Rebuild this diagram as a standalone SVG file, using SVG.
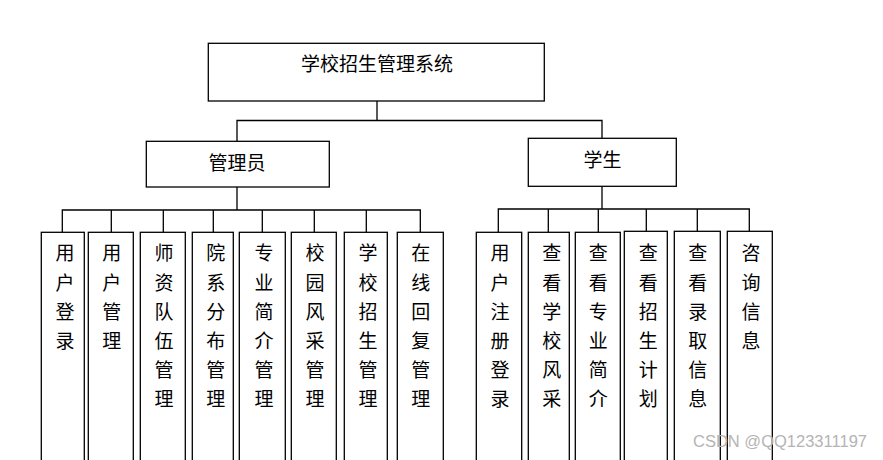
<svg xmlns="http://www.w3.org/2000/svg" width="883" height="460" viewBox="0 0 883 460">
<style>
.box{fill:#fff;stroke:#000;stroke-width:1.3}
.ln{fill:none;stroke:#000;stroke-width:1.3}
.t{font-family:"Liberation Serif","Noto Sans CJK SC",serif;font-size:19px;fill:#000;text-anchor:middle;dominant-baseline:central}
.wm{font-family:"Liberation Sans",Arial,sans-serif;font-size:16px;fill:#b4b4b4}
</style>
<rect width="883" height="460" fill="#fff"/>
<g id="connectors">
<path class="ln" d="M377 101V120.5M237 141V120.5H602V138"/>
<path class="ln" d="M237 187V210M62.3 232V210H420.3V232M111.3 210V232M163.3 210V232M213.3 210V232M262.3 210V232M314.3 210V232M366.3 210V232"/>
<path class="ln" d="M602 186V209M498.3 232V209H749.3V231M548.3 209V232M598.3 209V232M646.3 209V231M697.3 209V231"/>
</g>
<g id="root"><rect class="box" x="208.3" y="43.3" width="336" height="57.7"/><text class="t" x="377" y="64.5">学校招生管理系统</text></g>
<g id="admin"><rect class="box" x="146.3" y="141.3" width="183" height="45.7"/><text class="t" x="237" y="163">管理员</text></g>
<g id="student"><rect class="box" x="528.3" y="138.3" width="148" height="48"/><text class="t" x="602.5" y="160">学生</text></g>

<g id="a1"><rect class="box" x="41.3" y="232.3" width="43" height="240"/><text class="t"><tspan x="65" y="253.3">用</tspan><tspan x="65" y="282.5">户</tspan><tspan x="65" y="311.7">登</tspan><tspan x="65" y="340.9">录</tspan></text></g>
<g id="a2"><rect class="box" x="88.3" y="232.3" width="45" height="240"/><text class="t"><tspan x="111.7" y="253.3">用</tspan><tspan x="111.7" y="282.5">户</tspan><tspan x="111.7" y="311.7">管</tspan><tspan x="111.7" y="340.9">理</tspan></text></g>
<g id="a3"><rect class="box" x="140.3" y="232.3" width="45" height="240"/><text class="t"><tspan x="164" y="253.3">师</tspan><tspan x="164" y="282.5">资</tspan><tspan x="164" y="311.7">队</tspan><tspan x="164" y="340.9">伍</tspan><tspan x="164" y="370.1">管</tspan><tspan x="164" y="399.3">理</tspan></text></g>
<g id="a4"><rect class="box" x="192.3" y="232.3" width="41" height="240"/><text class="t"><tspan x="215.7" y="253.3">院</tspan><tspan x="215.7" y="282.5">系</tspan><tspan x="215.7" y="311.7">分</tspan><tspan x="215.7" y="340.9">布</tspan><tspan x="215.7" y="370.1">管</tspan><tspan x="215.7" y="399.3">理</tspan></text></g>
<g id="a5"><rect class="box" x="239.3" y="232.3" width="46" height="240"/><text class="t"><tspan x="264" y="253.3">专</tspan><tspan x="264" y="282.5">业</tspan><tspan x="264" y="311.7">简</tspan><tspan x="264" y="340.9">介</tspan><tspan x="264" y="370.1">管</tspan><tspan x="264" y="399.3">理</tspan></text></g>
<g id="a6"><rect class="box" x="291.3" y="232.3" width="45" height="240"/><text class="t"><tspan x="315" y="253.3">校</tspan><tspan x="315" y="282.5">园</tspan><tspan x="315" y="311.7">风</tspan><tspan x="315" y="340.9">采</tspan><tspan x="315" y="370.1">管</tspan><tspan x="315" y="399.3">理</tspan></text></g>
<g id="a7"><rect class="box" x="344.3" y="232.3" width="43" height="240"/><text class="t"><tspan x="368" y="253.3">学</tspan><tspan x="368" y="282.5">校</tspan><tspan x="368" y="311.7">招</tspan><tspan x="368" y="340.9">生</tspan><tspan x="368" y="370.1">管</tspan><tspan x="368" y="399.3">理</tspan></text></g>
<g id="a8"><rect class="box" x="397.3" y="232.3" width="46" height="240"/><text class="t"><tspan x="420.7" y="253.3">在</tspan><tspan x="420.7" y="282.5">线</tspan><tspan x="420.7" y="311.7">回</tspan><tspan x="420.7" y="340.9">复</tspan><tspan x="420.7" y="370.1">管</tspan><tspan x="420.7" y="399.3">理</tspan></text></g>

<g id="s1"><rect class="box" x="476.3" y="232.3" width="45.4" height="240"/><text class="t"><tspan x="500" y="253.3">用</tspan><tspan x="500" y="282.5">户</tspan><tspan x="500" y="311.7">注</tspan><tspan x="500" y="340.9">册</tspan><tspan x="500" y="370.1">登</tspan><tspan x="500" y="399.3">录</tspan></text></g>
<g id="s2"><rect class="box" x="528.3" y="232.3" width="41" height="240"/><text class="t"><tspan x="551.7" y="253.3">查</tspan><tspan x="551.7" y="282.5">看</tspan><tspan x="551.7" y="311.7">学</tspan><tspan x="551.7" y="340.9">校</tspan><tspan x="551.7" y="370.1">风</tspan><tspan x="551.7" y="399.3">采</tspan></text></g>
<g id="s3"><rect class="box" x="575.3" y="232.3" width="45" height="240"/><text class="t"><tspan x="598.3" y="253.3">查</tspan><tspan x="598.3" y="282.5">看</tspan><tspan x="598.3" y="311.7">专</tspan><tspan x="598.3" y="340.9">业</tspan><tspan x="598.3" y="370.1">简</tspan><tspan x="598.3" y="399.3">介</tspan></text></g>
<g id="s4"><rect class="box" x="624.3" y="231.3" width="43" height="240"/><text class="t"><tspan x="648.3" y="253.3">查</tspan><tspan x="648.3" y="282.5">看</tspan><tspan x="648.3" y="311.7">招</tspan><tspan x="648.3" y="340.9">生</tspan><tspan x="648.3" y="370.1">计</tspan><tspan x="648.3" y="399.3">划</tspan></text></g>
<g id="s5"><rect class="box" x="674.3" y="231.3" width="46" height="240"/><text class="t"><tspan x="697.7" y="253.3">查</tspan><tspan x="697.7" y="282.5">看</tspan><tspan x="697.7" y="311.7">录</tspan><tspan x="697.7" y="340.9">取</tspan><tspan x="697.7" y="370.1">信</tspan><tspan x="697.7" y="399.3">息</tspan></text></g>
<g id="s6"><rect class="box" x="727.3" y="231.3" width="45" height="240"/><text class="t"><tspan x="751" y="253.3">咨</tspan><tspan x="751" y="282.5">询</tspan><tspan x="751" y="311.7">信</tspan><tspan x="751" y="340.9">息</tspan></text></g>

<text class="wm" x="693" y="447" textLength="174" lengthAdjust="spacingAndGlyphs">CSDN @QQ123311197</text>
</svg>
